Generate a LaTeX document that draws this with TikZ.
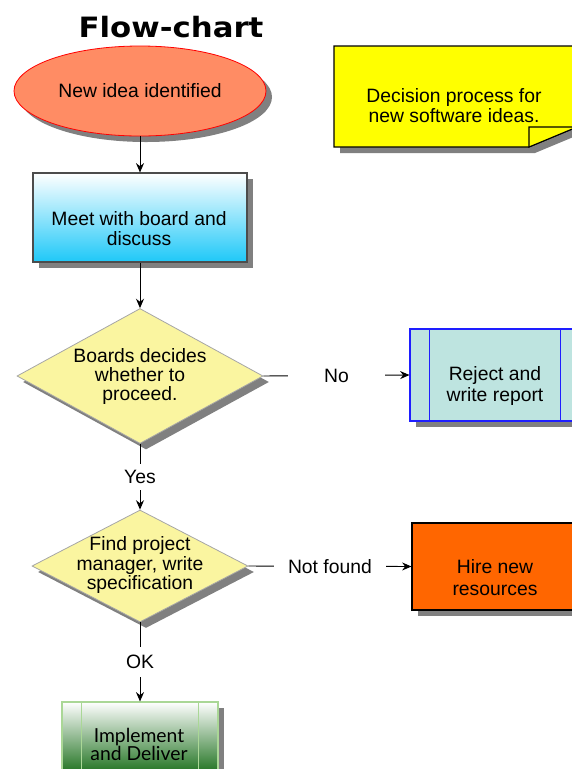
\documentclass[tikz,border=0pt]{standalone}
\usepackage{fontspec}
\setmainfont{Liberation Sans}
\newfontfamily\titlefont{DejaVu Sans}
\newfontfamily\handfont{Lato}
\usetikzlibrary{shapes.geometric,shadows,arrows.meta}
\definecolor{ellfill}{RGB}{255,140,100}
\definecolor{cyanb}{RGB}{30,200,248}
\definecolor{dyel}{RGB}{250,245,160}
\definecolor{rejfill}{RGB}{190,228,224}
\definecolor{rejline}{RGB}{30,30,255}
\definecolor{hirefill}{RGB}{255,102,0}
\definecolor{greenb}{RGB}{10,100,10}
\definecolor{greenline}{RGB}{170,215,150}
\definecolor{notefill}{RGB}{255,255,0}
\begin{document}
\begin{tikzpicture}[x=0.75pt,y=-0.75pt,
  sh/.style={drop shadow={shadow xshift=4.5pt,shadow yshift=-4.5pt,fill=black!50,opacity=1}},
  txt/.style={font=\fontsize{14.5}{15}\selectfont, align=center},
  boxsty/.style={rectangle, draw, line width=0.8pt, inner sep=0pt, sh},
  dia/.style={diamond, draw=black!35, line width=0.6pt, fill=dyel, inner sep=0pt, sh},
  lbl/.style={fill=white, inner sep=0pt, font=\fontsize{14.5}{15}\selectfont},
  arr/.style={-{Stealth[length=7pt,width=6pt]}, line width=0.7pt, black}]
\useasboundingbox (0,0) rectangle (572,769);

% title
\node[font=\titlefont\bfseries\fontsize{21}{24}\selectfont] (title) at (171,27) {\scalebox{1.1}[1]{Flow-chart}};

% note
\coordinate (n1) at (334,46);
\coordinate (n2) at (577,46);
\coordinate (n3) at (577,127);
\coordinate (n4) at (529,147);
\coordinate (n5) at (334,147);
\coordinate (nf) at (529,127);
\fill[black!50] ([shift={(6,6)}]n1) -- ([shift={(6,6)}]n2) -- ([shift={(6,6)}]n3) -- ([shift={(6,6)}]n4) -- ([shift={(6,6)}]n5) -- cycle;
\draw[fill=notefill, line width=0.8pt] (n1) -- (n2) -- (n3) -- (n4) -- (n5) -- cycle;
\draw[fill=notefill, line width=0.8pt] (nf) -- (n3) -- (n4) -- cycle;
\node[font=\fontsize{14.5}{12.75}\selectfont, align=center] (notetext) at (454,105.5) {Decision process for\\new software ideas.};

% start ellipse
\node[ellipse, draw=red, line width=0.6pt, fill=ellfill, minimum width=189pt, minimum height=67.5pt, inner sep=0pt, sh, txt] (e1) at (140,91) {New idea identified};

% meet box
\node[boxsty, draw=black!70, top color=white, bottom color=cyanb, minimum width=160.5pt, minimum height=66.75pt] (b1) at (140,217.5) {};
\node[txt, font=\fontsize{14.5}{15.5}\selectfont] (b1t) at (139,228.5) {Meet with board and\\discuss};

% decision 1
\node[dia, minimum width=184.5pt, minimum height=101.25pt] (d1) at (140,376) {};
\node[font=\fontsize{14.5}{14.25}\selectfont, align=center] (d1t) at (140,376) {Boards decides\\whether to\\proceed.};

% reject box
\node[boxsty, draw=rejline, fill=rejfill, minimum width=127.5pt, minimum height=69pt] (rej) at (495,375) {};
\draw[rejline, line width=0.8pt] ([xshift=15pt]rej.north west) -- ([xshift=15pt]rej.south west);
\draw[rejline, line width=0.8pt] ([xshift=-15pt]rej.north east) -- ([xshift=-15pt]rej.south east);
\node[txt, font=\fontsize{14.5}{16}\selectfont] (rejt) at (495,386) {Reject and\\write report};

% decision 2
\node[dia, minimum width=162pt, minimum height=84pt] (d2) at (140,566) {};
\node[font=\fontsize{14.5}{13.5}\selectfont, align=center] (d2t) at (140,565) {Find project\\manager, write\\specification};

% hire box
\node[boxsty, draw=black, fill=hirefill, minimum width=124.5pt, minimum height=65.25pt] (hire) at (495,566.5) {};
\node[txt, font=\fontsize{14.5}{16}\selectfont] (hiret) at (495,577.5) {Hire new\\resources};

% implement box
\node[boxsty, draw=greenline, top color=white, bottom color=greenb, minimum width=117pt, minimum height=58.5pt] (impl) at (140,741) {};
\draw[greenline, line width=0.8pt] ([xshift=15pt]impl.north west) -- ([xshift=15pt]impl.south west);
\draw[greenline, line width=0.8pt] ([xshift=-15pt]impl.north east) -- ([xshift=-15pt]impl.south east);
\node[font=\handfont\fontsize{14.5}{13.5}\selectfont, align=center] (implt) at (139,744) {Implement\\and Deliver};

% connectors
\draw[arr] (e1.south) -- (b1.north);
\draw[arr] (b1.south) -- (d1.north);
\draw[arr] (d1.east) -- node[lbl, minimum width=72.75pt] (lno) {No} (rej.west);
\draw[arr] (d1.south) -- node[lbl, minimum height=19.5pt] (lyes) {Yes} (d2.north);
\draw[arr] (d2.east) -- node[lbl, minimum width=84pt] (lnf) {Not found} (hire.west);
\draw[arr] (d2.south) -- node[lbl, minimum height=22pt] (lok) {OK} (impl.north);
\end{tikzpicture}
\end{document}
